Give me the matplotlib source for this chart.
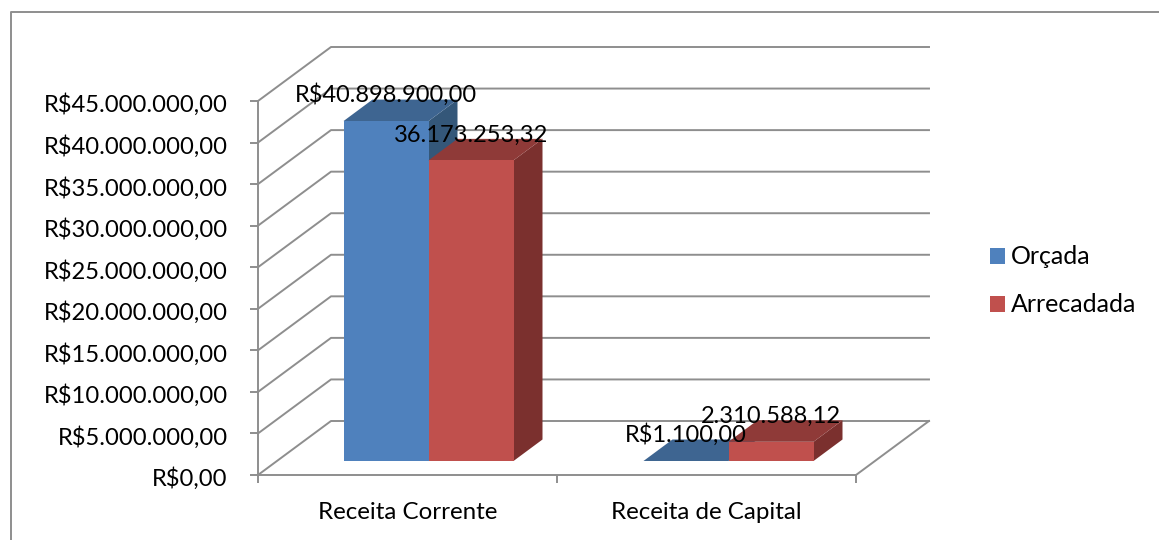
import matplotlib
matplotlib.use('Agg')
import matplotlib.pyplot as plt
from matplotlib.patches import Polygon, Patch
from matplotlib.lines import Line2D
from matplotlib.transforms import ScaledTranslation

plt.rcParams['font.family'] = ['Lato', 'DejaVu Sans']

categories = ['Receita Corrente', 'Receita de Capital']
orcada = [40898900.00, 1100.00]
arrecadada = [36173253.32, 2310588.12]
orcada_labels = ['R$40.898.900,00', 'R$1.100,00']
arrecadada_labels = ['36.173.253,32', '2.310.588,12']
y_ticks = [0, 5e6, 10e6, 15e6, 20e6, 25e6, 30e6, 35e6, 40e6, 45e6]
y_labels = ['R$0,00', 'R$5.000.000,00', 'R$10.000.000,00', 'R$15.000.000,00',
            'R$20.000.000,00', 'R$25.000.000,00', 'R$30.000.000,00',
            'R$35.000.000,00', 'R$40.000.000,00', 'R$45.000.000,00']

W, H = 1159, 540
GRID = '#8e8e8e'
fig = plt.figure(figsize=(W / 100, H / 100), dpi=100)
ax = fig.add_axes([258 / W, 1 - 475 / H, 598 / W, 374 / H])
ax.set_xlim(0, 2)
ax.set_ylim(0, 45e6)

px_x = 2 / 598    # data units per pixel
px_y = 45e6 / 374

# walls: front corner to back corner, then along the back
wall_dx = 73 * px_x
wall_dy = 54 * px_y
for v in y_ticks:
    ax.plot([0, wall_dx, 2 + wall_dx], [v, v + wall_dy, v + wall_dy],
            color=GRID, lw=1.4, clip_on=False, zorder=1)
ax.plot([2, 2 + wall_dx], [0, wall_dy], color=GRID, lw=1.4, clip_on=False, zorder=1)

# 3D boxes
floor = 14 * px_y
bar_w = 85 * px_x
box_dx = 29 * px_x
box_dy = 21.5 * px_y
blue = ('#4f81bd', '#3e6591', '#345779')
red = ('#c0504d', '#8f3a38', '#7b302e')


def box(x, v, cols):
    x2 = x + bar_w
    y1 = floor
    y2 = floor + v
    ax.add_patch(Polygon([(x2, y1), (x2 + box_dx, y1 + box_dy), (x2 + box_dx, y2 + box_dy), (x2, y2)],
                         fc=cols[2], ec='none', clip_on=False, zorder=3))
    ax.add_patch(Polygon([(x, y2), (x + box_dx, y2 + box_dy), (x2 + box_dx, y2 + box_dy), (x2, y2)],
                         fc=cols[1], ec='none', clip_on=False, zorder=3))
    ax.add_patch(Polygon([(x, y1), (x2, y1), (x2, y2), (x, y2)],
                         fc=cols[0], ec='none', clip_on=False, zorder=3))


starts = [85.5 * px_x, 385.5 * px_x]
for i in range(2):
    box(starts[i], orcada[i], blue)
    box(starts[i] + bar_w, arrecadada[i], red)

label_size = 17
for i in range(2):
    ax.annotate(orcada_labels[i], (starts[i] + bar_w / 2, floor + orcada[i]), xytext=(0, 19),
                textcoords='offset points', ha='center', va='center',
                fontsize=label_size, color='black', zorder=5, annotation_clip=False)
    ax.annotate(arrecadada_labels[i], (starts[i] + bar_w * 1.5, floor + arrecadada[i]), xytext=(0, 18),
                textcoords='offset points', ha='center', va='center',
                fontsize=label_size, color='black', zorder=5, annotation_clip=False)

# axes
for s in ['top', 'right']:
    ax.spines[s].set_visible(False)
for s in ['left', 'bottom']:
    ax.spines[s].set_color(GRID)
    ax.spines[s].set_linewidth(1.4)
ax.patch.set_alpha(0)
ax.set_yticks(y_ticks)
ax.set_yticklabels(y_labels)
ax.set_xticks([0, 1, 2])
ax.set_xticklabels([])
ax.tick_params(axis='both', color=GRID, width=1.4, length=6, labelsize=17.1)
ax.tick_params(axis='y', pad=15.8)
shift_down = ScaledTranslation(0, -2 / 100, fig.dpi_scale_trans)
for t in ax.get_yticklabels():
    t.set_transform(t.get_transform() + shift_down)
for i in range(2):
    ax.annotate(categories[i], (i + 0.5, 0), xytext=(0, -27), textcoords='offset points',
                ha='center', va='center', fontsize=17.4, annotation_clip=False)

# legend
handles = [Patch(fc=blue[0], ec='none', label='Orçada'), Patch(fc=red[0], ec='none', label='Arrecadada')]
fig.legend(handles=handles, loc='center left', bbox_to_anchor=(990 / W, 1 - 281 / H), frameon=False,
           fontsize=18, handlelength=0.6, handleheight=0.6, handletextpad=0.25,
           labelspacing=1.0, borderpad=0, borderaxespad=0)

# chart frame, open on the right and at the bottom of the crop
fig.add_artist(Line2D([10.5 / W, 10.5 / W, 1], [0, 1 - 12 / H, 1 - 12 / H], color=GRID, lw=1.4))

fig.savefig('out.png', dpi=100)
